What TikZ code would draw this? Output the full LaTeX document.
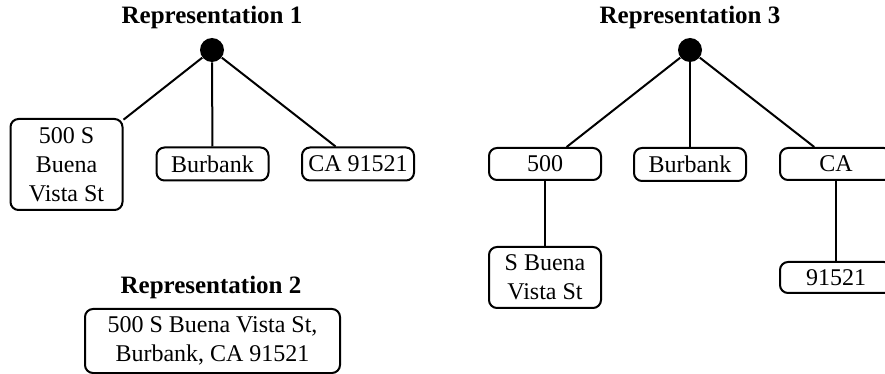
\documentclass[tikz,border=0pt]{standalone}
\usepackage{fontspec}
\setmainfont{Liberation Serif}
\begin{document}
\begin{tikzpicture}[x=0.5pt,y=-0.5pt,
  box/.style={draw, rounded corners=4pt, line width=1pt, inner sep=0pt,
    minimum width=56pt, align=center, font=\fontsize{12}{14.5}\selectfont},
  root/.style={circle, fill, inner sep=0pt, minimum size=12pt},
  ttl/.style={font=\bfseries\fontsize{12.5}{15}\selectfont},
  link/.style={line width=1pt}]
\useasboundingbox (0,0) rectangle (885,374);

% Representation 1: flat tree of three parts
\node[ttl] (t1) at (212,17) {Representation 1};
\node[root] (r1) at (212,50) {};
\node[box, minimum height=45.5pt] (a1) at (66.5,164.5) {500 S\\Buena\\Vista St};
\node[box, minimum height=16.5pt] (b1) at (212.5,164) {Burbank};
\node[box, minimum height=16.5pt] (c1) at (358,164) {CA 91521};
\draw[link] (r1) -- (a1);
\draw[link] (r1) -- (b1);
\draw[link] (r1) -- (c1);

% Representation 2: a single string
\node[ttl] (t2) at (211,287) {Representation 2};
\node[box, minimum width=127.5pt, minimum height=32pt] (s2) at (212.5,341)
  {500 S Buena Vista St,\\Burbank, CA 91521};

% Representation 3: nested tree
\node[ttl] (t3) at (690,17) {Representation 3};
\node[root] (r3) at (690,50) {};
\node[box, minimum height=16pt] (a3) at (545,164) {500};
\node[box, minimum height=16.5pt] (b3) at (690,164.5) {Burbank};
\node[box, minimum height=16pt] (c3) at (836,164) {CA};
\node[box, minimum height=30.5pt] (d3) at (545,277.5) {S Buena\\Vista St};
\node[box, minimum height=15.5pt] (e3) at (836,277.5) {91521};
\draw[link] (r3) -- (a3);
\draw[link] (r3) -- (b3);
\draw[link] (r3) -- (c3);
\draw[link] (a3) -- (d3);
\draw[link] (c3) -- (e3);
\end{tikzpicture}
\end{document}
